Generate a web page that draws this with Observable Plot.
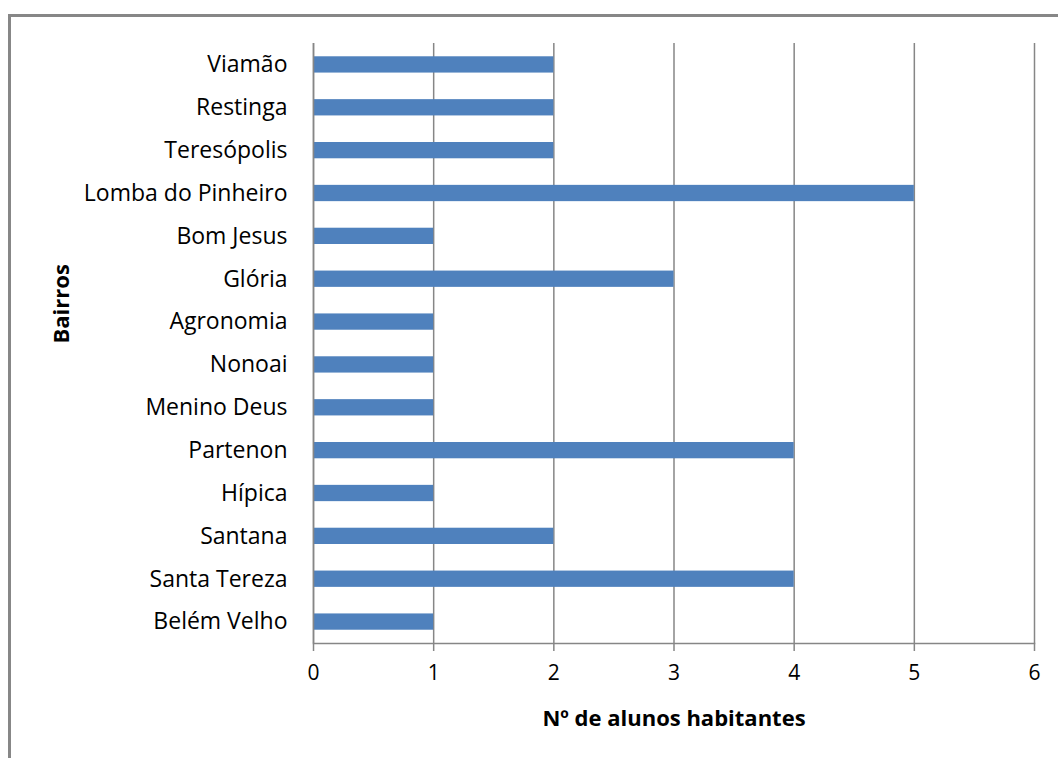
<!DOCTYPE html>
<html>
<head>
<meta charset="utf-8">
<script src="https://cdn.jsdelivr.net/npm/d3@7"></script>
<script src="https://cdn.jsdelivr.net/npm/@observablehq/plot@0.6"></script>
<style>
  html, body { margin: 0; padding: 0; background: #fff; overflow: hidden; }
  #wrap { position: relative; width: 1058px; height: 758px; }
  #border { position: absolute; left: 8px; top: 14px; width: 1200px; height: 900px;
            border-left: 3px solid #878787; border-top: 3px solid #878787; }
  #chart { position: absolute; left: 0; top: 0; }
</style>
</head>
<body>
<div id="wrap">
  <div id="border"></div>
  <div id="chart"></div>
</div>
<script>
// Neighbourhoods (top to bottom) and number of students living in each
const bairros = ["Viamão", "Restinga", "Teresópolis", "Lomba do Pinheiro", "Bom Jesus",
  "Glória", "Agronomia", "Nonoai", "Menino Deus", "Partenon", "Hípica", "Santana",
  "Santa Tereza", "Belém Velho"];
const alunos = [2, 2, 2, 5, 1, 3, 1, 1, 1, 4, 1, 2, 4, 1];
const xTicks = [0, 1, 2, 3, 4, 5, 6];

const data = bairros.map((b, i) => ({bairro: b, n: alunos[i]}));
const gray = "#868686";
const font = "'Open Sans', sans-serif";

const chart = Plot.plot({
  width: 1058,
  height: 758,
  marginLeft: 313,
  marginRight: 24,
  marginTop: 43,
  marginBottom: 115,
  style: {fontFamily: font, fontSize: "21px", color: "#000", background: "transparent"},
  x: {domain: [0, 6]},
  y: {domain: bairros, paddingInner: 0.62, paddingOuter: 0.31, round: false},
  marks: [
    Plot.gridX(xTicks, {stroke: gray, strokeOpacity: 1, strokeWidth: 1.5}),
    Plot.barX(data, {x: "n", y: "bairro", fill: "#4F81BD"}),
    Plot.ruleX([0], {stroke: gray, strokeWidth: 1.5}),
    Plot.frame({anchor: "bottom", stroke: gray, strokeWidth: 1.5}),
    Plot.axisX(xTicks, {tickSize: 8, tickPadding: 14, stroke: gray, strokeWidth: 1.5,
      fill: "#000", fontSize: 21, tickFormat: "d", label: null}),
    Plot.axisY({tickSize: 0, tickPadding: 26, fontSize: 23, label: null}),
    Plot.text(["Nº de alunos habitantes"], {frameAnchor: "bottom", dy: 75,
      textAnchor: "middle", fontWeight: "bold", fontSize: 22, lineAnchor: "middle"}),
    Plot.text(["Bairros"], {frameAnchor: "left", dx: -252, rotate: -90,
      fontWeight: "bold", fontSize: 22, lineAnchor: "middle"})
  ]
});
document.getElementById("chart").appendChild(chart);
</script>
</body>
</html>
